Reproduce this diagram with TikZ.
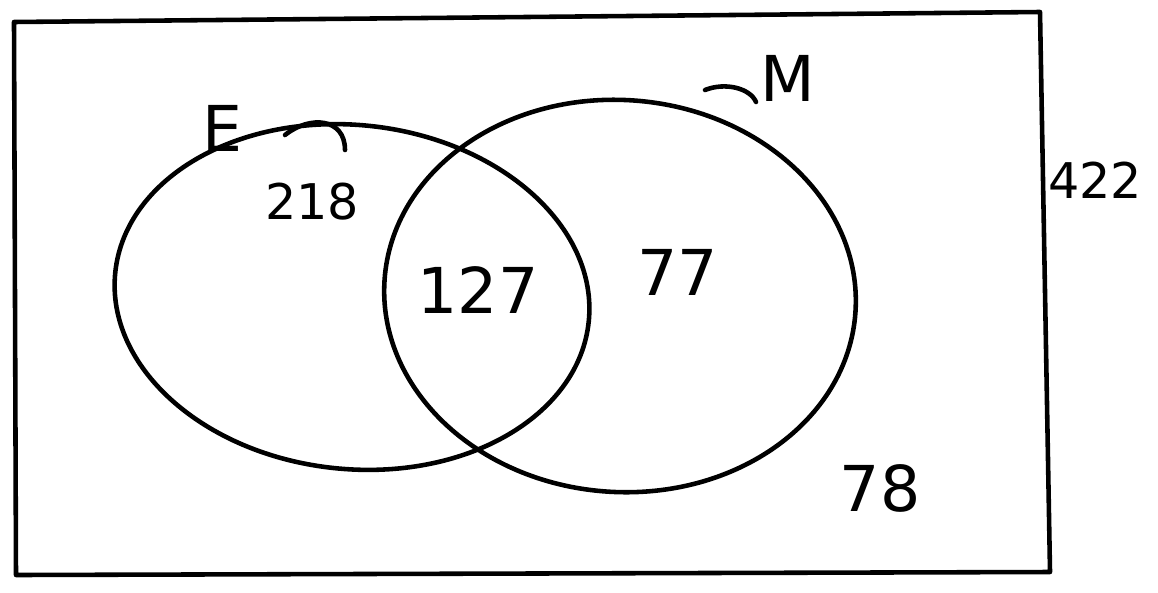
\documentclass[tikz,border=0pt]{standalone}
\usepackage{fontspec}
\setmainfont{DejaVu Sans}
\usetikzlibrary{positioning}

\begin{document}
\begin{tikzpicture}[
  x=0.02cm,y=-0.02cm,
  hand/.style={draw=black,line width=2.6pt,line cap=round,line join=round},
  count/.style={font=\fontsize{36}{38}\selectfont,inner sep=0pt},
  small/.style={font=\fontsize{28}{30}\selectfont,inner sep=0pt},
  setname/.style={font=\fontsize{36}{38}\selectfont,inner sep=0pt}
]
  \useasboundingbox (0,0) rectangle (1158,592);

  % universe
  \draw[hand] (14,22) -- (1040,12) -- (1050,572) -- (16,575) -- cycle;

  % the two sets
  \draw[hand,rotate around={-6:(352,297)}] (352,297) ellipse (238 and 172);
  \draw[hand,rotate around={-4:(620,296)}] (620,296) ellipse (236 and 196);

  % small pen marks
  \draw[hand] (285,135) .. controls (310,115) and (345,118) .. (345,150);
  \draw[hand] (705,90) .. controls (725,82) and (750,88) .. (756,102);

  % labels
  \node[setname] (lblE) at (222,128) {E};
  \node[setname] (lblM) at (788,78) {M};
  \node[small] (onlyE) at (312,202) {218};
  \node[count] (both) at (478,290) {127};
  \node[count] (onlyM) at (678,272) {77};
  \node[count] (none) at (880,488) {78};
  \node[small] (total) at (1095,180) {422};
\end{tikzpicture}
\end{document}
